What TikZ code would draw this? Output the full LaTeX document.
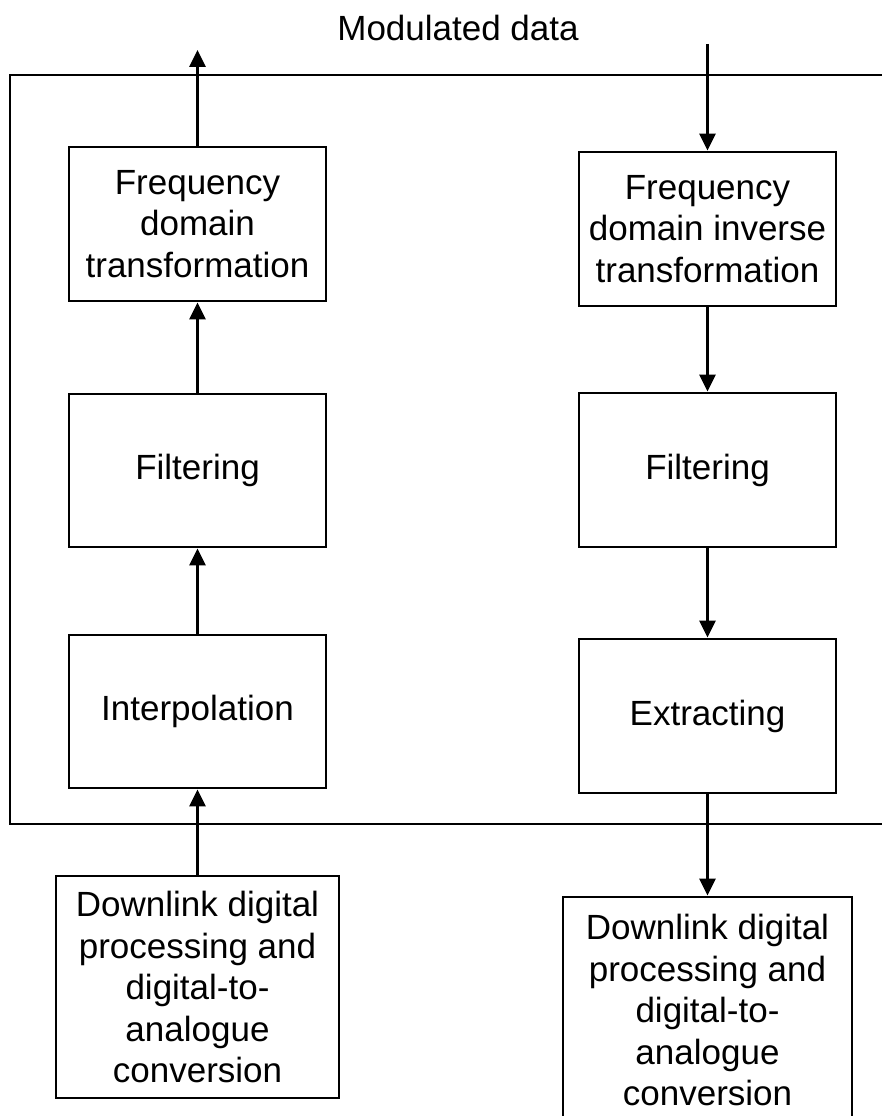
\documentclass[tikz,border=0pt]{standalone}
\usepackage{fontspec}
\setmainfont{Liberation Sans}
\usetikzlibrary{arrows.meta}

\begin{document}
\begin{tikzpicture}[x=1pt,y=-1pt,>={Triangle[width=16pt,length=17pt]},
    line width=2.8pt,
    every node/.style={font=\fontsize{35}{41.5}\selectfont},
    block/.style={draw,align=center,inner sep=0pt,minimum width=257pt,minimum height=154pt},
    lowblock/.style={draw,align=center,inner sep=0pt,minimum height=222pt}]
                        \useasboundingbox (0,0) rectangle (882,1116);

                        % frame
                        \draw (890,75)--(10,75)--(10,824)--(890,824);
                        \node (title) at(458,28) {Modulated data};

                        % left column
                        \node[block] (ltrans) at(197.5,224) {Frequency\\domain\\transformation};
                        \node[block,minimum height=153pt] (lfilt) at(197.5,470.5) {Filtering};
                        \node[block,minimum height=153pt] (interp) at(197.5,711.5) {Interpolation};
                        \node[lowblock,minimum width=283pt] (ldown) at(197.5,987) {Downlink digital\\processing and\\digital-to-\\analogue\\conversion};
                        \coordinate (lout) at(197.5,50);

                        \draw[->] (ltrans.north)--(lout);
                        \draw[->] (lfilt.north)--(ltrans.south);
                        \draw[->] (interp.north)--(lfilt.south);
                        \draw[->] (ldown.north)--(interp.south);

                        % right column
                        \node[block] (rtrans) at(707.5,229) {Frequency\\domain inverse\\transformation};
                        \node[block] (rfilt) at(707.5,470) {Filtering};
                        \node[block] (extract) at(707.5,716) {Extracting};
                        \node[lowblock,minimum width=289pt,minimum height=226pt] (rdown) at(707.5,1010) {Downlink digital\\processing and\\digital-to-\\analogue\\conversion};
                        \coordinate (rin) at(707.5,44);

                        \draw[->] (rin)--(rtrans.north);
                        \draw[->] (rtrans.south)--(rfilt.north);
                        \draw[->] (rfilt.south)--(extract.north);
                        \draw[->] (extract.south)--(rdown.north);
                    \end{tikzpicture}
\end{document}
